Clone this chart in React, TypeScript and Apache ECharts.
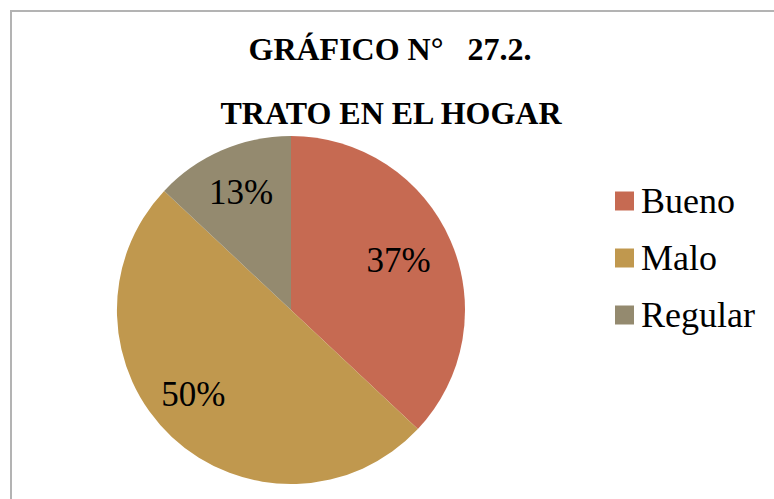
import React, { useEffect, useRef } from "react";
import * as echarts from "echarts";

const titleLines = ["GRÁFICO N°   27.2.", "TRATO EN EL HOGAR"];
const categories = ["Bueno", "Malo", "Regular"];
const percents = [37, 50, 13];
const colors = ["#C66A52", "#C0984E", "#948A6F"];
const labelOffsets = [[-10, 1], [-10, -9], [1, 0]];

const FONT = "Times New Roman";

export default function App() {
  const ref = useRef<HTMLDivElement>(null);
  useEffect(() => {
    if (!ref.current) return;
    const chart = echarts.init(ref.current, null, { renderer: "svg" });
    const data = categories.map((name, i) => ({
      name,
      value: percents[i],
      itemStyle: { color: colors[i] },
    }));
    chart.setOption({
      animation: false,
      backgroundColor: "#ffffff",
      title: [
        {
          text: titleLines[0],
          left: 385,
          top: 28,
          textAlign: "center",
          textStyle: { fontFamily: FONT, fontWeight: "bold", fontSize: 32, color: "#000" },
        },
        {
          text: titleLines[1],
          left: 386,
          top: 92,
          textAlign: "center",
          textStyle: { fontFamily: FONT, fontWeight: "bold", fontSize: 32, color: "#000" },
        },
      ],
      graphic: [
        {
          type: "rect",
          shape: { x: 11, y: 11, width: 800, height: 520 },
          style: { fill: "none", stroke: "#b3b3b3", lineWidth: 2 },
          silent: true,
        },
      ],
      legend: {
        orient: "vertical",
        left: 615,
        top: 183,
        padding: 0,
        itemWidth: 19,
        itemHeight: 19,
        itemGap: 21,
        icon: "rect",
        data: categories,
        textStyle: { fontFamily: FONT, fontSize: 36, color: "#000", padding: [0, 0, 0, 2] },
      },
      series: [
        {
          type: "pie",
          center: [291, 310],
          radius: [0, 174],
          startAngle: 90,
          clockwise: true,
          label: { show: false },
          labelLine: { show: false },
          emphasis: { disabled: true },
          data,
        },
        {
          type: "pie",
          center: [291, 310],
          radius: [100, 150],
          startAngle: 90,
          clockwise: true,
          silent: true,
          itemStyle: { color: "transparent" },
          label: {
            show: true,
            position: "inside",
            formatter: "{c}%",
            fontFamily: FONT,
            fontSize: 35,
            color: "#000",
          },
          labelLine: { show: false },
          emphasis: { disabled: true },
          data: categories.map((name, i) => ({
            name,
            value: percents[i],
            itemStyle: { color: "transparent" },
            label: { offset: labelOffsets[i] },
          })),
        },
      ],
    });
    return () => chart.dispose();
  }, []);
  return (
    <div
      ref={ref}
      style={{ position: "absolute", left: 0, top: 0, width: 774, height: 499 }}
    />
  );
}
